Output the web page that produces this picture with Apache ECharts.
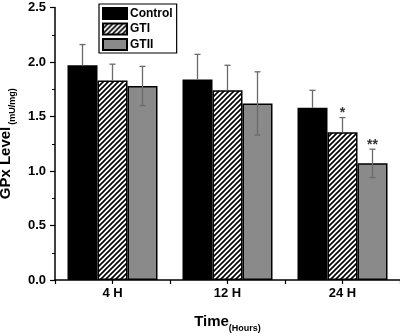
<!DOCTYPE html>
<html><head><meta charset="utf-8">
<script src="https://cdn.jsdelivr.net/npm/echarts@6/dist/echarts.min.js"></script>
<style>html,body{margin:0;padding:0;background:#fff}#c{width:400px;height:336px}</style>
</head><body><div id="c"></div>
<script>
const categories = ['4 H', '12 H', '24 H'];
const seriesNames = ['Control', 'GTI', 'GTII'];
const controlVals = [1.97, 1.84, 1.58];
const gtiVals = [1.83, 1.74, 1.355];
const gtiiVals = [1.78, 1.62, 1.07];
const controlErr = [0.19, 0.23, 0.16];
const gtiErr = [0.15, 0.23, 0.135];
const gtiiErr = [0.18, 0.29, 0.13];
const controlSig = ['', '', ''];
const gtiSig = ['', '', '*'];
const gtiiSig = ['', '', '**'];
const yTicks = [0, 0.5, 1.0, 1.5, 2.0, 2.5];

const F = '"Liberation Sans", Arial, sans-serif';
const BW = 30;

function hatch() {
  const c = document.createElement('canvas');
  c.width = 5; c.height = 5;
  const g = c.getContext('2d');
  g.fillStyle = '#fff'; g.fillRect(0, 0, 5, 5);
  g.strokeStyle = '#000'; g.lineWidth = 1.6;
  g.beginPath();
  g.moveTo(-1, 6); g.lineTo(6, -1);
  g.moveTo(-6, 6); g.lineTo(1, -1);
  g.moveTo(4, 6); g.lineTo(11, -1);
  g.stroke();
  return c;
}
const fills = ['#000', { image: hatch(), repeat: 'repeat' }, '#8a8a8a'];
const vals = [controlVals, gtiVals, gtiiVals];
const errs = [controlErr, gtiErr, gtiiErr];
const sigs = [controlSig, gtiSig, gtiiSig];

const errData = [];
for (let s = 0; s < 3; s++) for (let i = 0; i < 3; i++)
  errData.push([i, vals[s][i], errs[s][i], s, sigs[s][i]]);

const chart = echarts.init(document.getElementById('c'), null, { renderer: 'canvas' });
chart.setOption({
  animation: false,
  grid: { left: 55, right: 0, top: 7.5, bottom: 56, containLabel: false, outerBoundsMode: 'none' },
  legend: {
    orient: 'vertical', left: 99, top: 4, padding: [3, 4, 2, 3],
    itemWidth: 24, itemHeight: 11, itemGap: 2.5, icon: 'rect',
    borderColor: '#000', borderWidth: 1.2,
    textStyle: { fontFamily: F, fontWeight: 'bold', fontSize: 12, color: '#000', padding: [0, 0, 0, -2] },
    data: seriesNames
  },
  xAxis: [{
    type: 'category', data: categories, position: 'bottom',
    axisLine: { lineStyle: { color: '#000', width: 1.5 } },
    axisTick: { show: true, length: 4, lineStyle: { color: '#000', width: 1.2 } },
    axisLabel: { fontFamily: F, fontWeight: 'bold', fontSize: 13, color: '#000', margin: 7 },
    name: '{a|Time}{b|(Hours)}', nameLocation: 'middle', nameGap: 29,
    nameTextStyle: { rich: {
      a: { fontFamily: F, fontWeight: 'bold', fontSize: 15, color: '#000', verticalAlign: 'bottom', lineHeight: 20 },
      b: { fontFamily: F, fontWeight: 'bold', fontSize: 9, color: '#000', verticalAlign: 'bottom', lineHeight: 14, padding: [0, 0, -4, 0] }
    } }
  }, {
    type: 'category', data: categories, position: 'bottom', offset: 0,
    axisLine: { show: false },
    axisTick: { show: true, alignWithLabel: true, length: 4, lineStyle: { color: '#000', width: 1.2 } },
    axisLabel: { show: false }
  }],
  yAxis: {
    type: 'value', min: yTicks[0], max: yTicks[yTicks.length - 1], interval: 0.5,
    splitLine: { show: false },
    axisLine: { show: true, lineStyle: { color: '#000', width: 1.5 } },
    axisTick: { show: true, length: 5, lineStyle: { color: '#000', width: 1.2 } },
    minorTick: { show: true, splitNumber: 2, length: 3, lineStyle: { color: '#000', width: 1 } },
    axisLabel: { fontFamily: F, fontWeight: 'bold', fontSize: 13, color: '#000', margin: 9,
      formatter: v => v.toFixed(1) },
    name: '{a|GPx Level}{b|(mU/mg)}', nameLocation: 'middle', nameGap: 34, nameRotate: 90,
    nameTextStyle: { rich: {
      a: { fontFamily: F, fontWeight: 'bold', fontSize: 15, color: '#000', verticalAlign: 'bottom', lineHeight: 20 },
      b: { fontFamily: F, fontWeight: 'bold', fontSize: 9, color: '#000', verticalAlign: 'bottom', lineHeight: 14, padding: [0, 0, -4, 2] }
    } }
  },
  series: [
    ...seriesNames.map((n, s) => ({
      name: n, type: 'bar', barWidth: BW, barGap: '0%', data: vals[s],
      itemStyle: { color: fills[s], borderColor: '#000', borderWidth: 1.5 },
      z: 2
    })),
    {
      type: 'custom', z: 5, silent: true,
      data: errData,
      encode: { x: 0, y: 1 },
      renderItem: (params, api) => {
        const cat = api.value(0), m = api.value(1), e = api.value(2), s = api.value(3);
        const sig = errData[params.dataIndex][4];
        const x = api.coord([cat, m])[0] + (s - 1) * BW;
        const yTop = api.coord([cat, m + e])[1];
        const yMid = api.coord([cat, m])[1];
        const yBot = api.coord([cat, m - e])[1];
        const st = { stroke: '#6a6a6a', lineWidth: 1.3 };
        const ch = [
          { type: 'line', shape: { x1: x, y1: yMid, x2: x, y2: yTop }, style: st },
          { type: 'line', shape: { x1: x - 3, y1: yTop, x2: x + 3, y2: yTop }, style: st }
        ];
        if (s === 2) {
          ch.push({ type: 'line', shape: { x1: x, y1: yMid, x2: x, y2: yBot }, style: st });
          ch.push({ type: 'line', shape: { x1: x - 3, y1: yBot, x2: x + 3, y2: yBot }, style: st });
        }
        if (sig) ch.push({ type: 'text', style: { text: sig, x: x, y: yTop + 3, align: 'center', verticalAlign: 'bottom',
          fontFamily: F, fontWeight: 'bold', fontSize: 14, fill: '#333' } });
        return { type: 'group', children: ch };
      }
    }
  ]
});
</script></body></html>
